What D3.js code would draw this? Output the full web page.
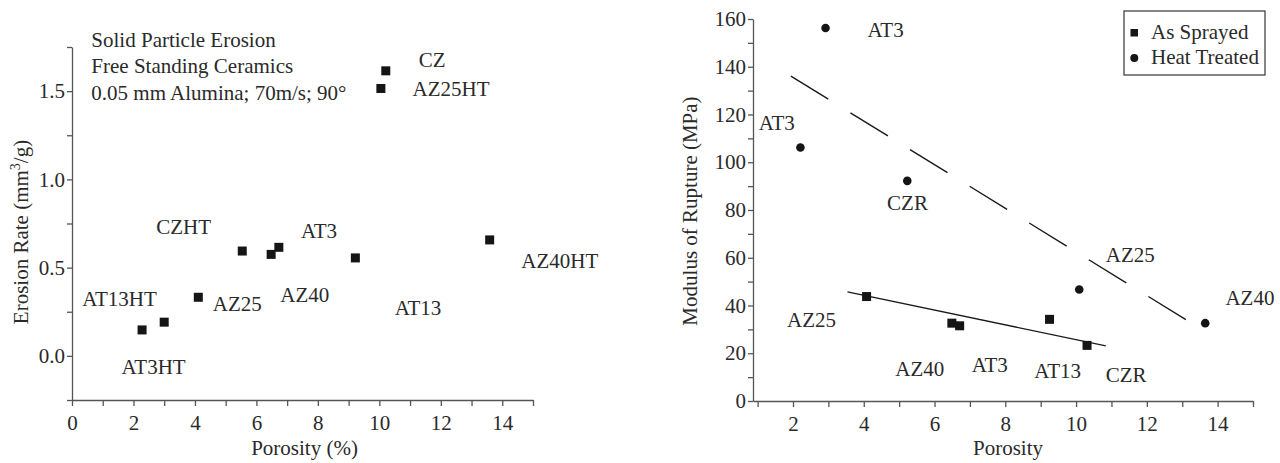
<!DOCTYPE html>
<html>
<head>
<meta charset="utf-8">
<script src="https://d3js.org/d3.v7.min.js"></script>
<style>
  body { margin: 0; background: #fff; }
  svg text { font-family: "Liberation Serif", "DejaVu Serif", serif; fill: #2a2a2a; }
  .axis path, .axis line { stroke: #555; stroke-width: 1.3; }
</style>
</head>
<body>
<div id="chart-container"></div>
<script>
// ---- data: left panel (erosion rate vs porosity) ----
var erosionPorosity = [2.28, 3.00, 4.11, 5.54, 6.48, 6.73, 9.22, 10.05, 10.21, 13.59];
var erosionRate     = [0.147, 0.191, 0.332, 0.594, 0.575, 0.615, 0.555, 1.515, 1.615, 0.657];
var erosionLabels   = ["AT3HT", "AT13HT", "CZHT", "AT3", "AZ25", "AZ40", "AT13", "AZ40HT", "AZ25HT", "CZ"];
var erosionLabelX   = [1.61, 0.33, 2.74, 7.45, 4.58, 6.78, 10.50, 14.62, 11.08, 11.28];
var erosionLabelY   = [-0.104, 0.284, 0.693, 0.670, 0.256, 0.307, 0.233, 0.500, 1.473, 1.635];
var erosionNotes    = ["Solid Particle Erosion", "Free Standing Ceramics", "0.05 mm Alumina; 70m/s; 90\u00b0"];
var erosionNoteY    = [1.75, 1.60, 1.449];
var leftXTicks = [0, 2, 4, 6, 8, 10, 12, 14];
var leftYTicks = [0.0, 0.5, 1.0, 1.5];

// ---- data: right panel (modulus of rupture vs porosity) ----
var sprayedPorosity = [4.08, 6.49, 6.71, 9.25, 10.31];
var sprayedMOR      = [43.75, 32.6, 31.5, 34.2, 23.3];
var treatedPorosity = [2.21, 2.92, 5.23, 10.09, 13.65];
var treatedMOR      = [106.2, 156.2, 92.2, 46.7, 32.6];
var sprayedFitX = [3.54, 10.84];
var sprayedFitY = [45.7, 23.1];
var treatedFitX = [1.94, 13.19];
var treatedFitY = [136.1, 33.3];
var morLabels = ["AT3", "AT3", "CZR", "AZ25", "AZ40", "AZ25", "AZ40", "AT3", "AT13", "CZR"];
var morLabelX = [4.105, 1.03, 4.66, 10.84, 14.22, 1.83, 4.89, 7.05, 8.82, 10.84];
var morLabelY = [152.5, 113.5, 80.0, 58.2, 40.2, 31.0, 10.5, 12.1, 9.6, 7.8];
var rightXTicks = [2, 4, 6, 8, 10, 12, 14];
var rightYTicks = [0, 20, 40, 60, 80, 100, 120, 140, 160];
var legendNames = ["As Sprayed", "Heat Treated"];

var svgWidth = 1280;
var svgHeight = 463;
var fs = 21; // text size used almost everywhere

var svg = d3.select("#chart-container")
    .append("svg")
    .attr("width", svgWidth)
    .attr("height", svgHeight);

function zip(xs, ys) {
    return xs.map(function(v, i) { return { x: v, y: ys[i] }; });
}

// =================== LEFT PANEL ===================
var xL = d3.scaleLinear().domain([0, 15]).range([72, 533]);
var yL = d3.scaleLinear().domain([-0.25, 1.75]).range([400, 47]);

svg.append("g")
    .attr("class", "axis")
    .attr("transform", "translate(0," + yL(-0.25) + ")")
    .call(d3.axisBottom(xL).tickValues(d3.range(0, 16, 1)).tickSize(6).tickSizeOuter(0)
        .tickFormat(function(d) { return leftXTicks.indexOf(d) >= 0 ? d : ""; }))
    .call(function(g) { g.selectAll("text").attr("font-size", fs).attr("dy", "1.0em"); });

svg.append("g")
    .attr("class", "axis")
    .attr("transform", "translate(" + xL(0) + ",0)")
    .call(d3.axisLeft(yL).tickValues(d3.range(-0.25, 1.76, 0.25)).tickSize(5).tickSizeOuter(0)
        .tickFormat(function(d) {
            var hit = leftYTicks.find(function(t) { return Math.abs(t - d) < 1e-6; });
            return hit === undefined ? "" : d3.format(".1f")(hit);
        }))
    .call(function(g) { g.selectAll("text").attr("font-size", fs).attr("x", -7); });

svg.selectAll(".sq-left")
    .data(zip(erosionPorosity, erosionRate))
    .enter().append("rect")
    .attr("class", "sq-left")
    .attr("x", function(d) { return xL(d.x) - 4.5; })
    .attr("y", function(d) { return yL(d.y) - 4.5; })
    .attr("width", 9)
    .attr("height", 9)
    .style("fill", "#151515");

svg.selectAll(".lab-left")
    .data(erosionLabels)
    .enter().append("text")
    .attr("class", "lab-left")
    .attr("x", function(d, i) { return xL(erosionLabelX[i]); })
    .attr("y", function(d, i) { return yL(erosionLabelY[i]); })
    .attr("font-size", fs)
    .text(function(d) { return d; });

svg.selectAll(".note-left")
    .data(erosionNotes)
    .enter().append("text")
    .attr("class", "note-left")
    .attr("x", xL(0.63))
    .attr("y", function(d, i) { return yL(erosionNoteY[i]); })
    .attr("font-size", fs)
    .text(function(d) { return d; });

// axis titles
svg.append("text")
    .attr("x", (xL(0) + xL(15)) / 2 + 2)
    .attr("y", 455)
    .attr("text-anchor", "middle")
    .attr("font-size", fs)
    .text("Porosity (%)");

var yTitleL = svg.append("text")
    .attr("transform", "translate(28," + 232 + ") rotate(-90)")
    .attr("text-anchor", "middle")
    .attr("font-size", fs);
yTitleL.append("tspan").text("Erosion Rate (mm");
yTitleL.append("tspan").attr("font-size", 14).attr("dy", -8).text("3");
yTitleL.append("tspan").attr("dy", 8).text("/g)");

// =================== RIGHT PANEL ===================
var xR = d3.scaleLinear().domain([0.87, 15]).range([753, 1253]);
var yR = d3.scaleLinear().domain([0, 160]).range([401, 19]);

svg.append("g")
    .attr("class", "axis")
    .attr("transform", "translate(0," + yR(0) + ")")
    .call(d3.axisBottom(xR).tickValues(d3.range(1, 16, 1)).tickSize(6).tickSizeOuter(0)
        .tickFormat(function(d) { return rightXTicks.indexOf(d) >= 0 ? d : ""; }))
    .call(function(g) { g.selectAll("text").attr("font-size", fs).attr("dy", "1.0em"); });

svg.append("g")
    .attr("class", "axis")
    .attr("transform", "translate(" + xR(0.87) + ",0)")
    .call(d3.axisLeft(yR).tickValues(d3.range(0, 161, 10)).tickSize(5).tickSizeOuter(0)
        .tickFormat(function(d) { return rightYTicks.indexOf(d) >= 0 ? d : ""; }))
    .call(function(g) { g.selectAll("text").attr("font-size", fs).attr("x", -7); });

// fitted lines
var lineR = d3.line()
    .x(function(d) { return xR(d.x); })
    .y(function(d) { return yR(d.y); });

svg.append("path")
    .datum(zip(sprayedFitX, sprayedFitY))
    .attr("d", lineR)
    .style("fill", "none")
    .style("stroke", "#1a1a1a")
    .style("stroke-width", 1.4);

svg.append("path")
    .datum(zip(treatedFitX, treatedFitY))
    .attr("d", lineR)
    .style("fill", "none")
    .style("stroke", "#1a1a1a")
    .style("stroke-width", 1.4)
    .style("stroke-dasharray", "44,26");

svg.selectAll(".sq-right")
    .data(zip(sprayedPorosity, sprayedMOR))
    .enter().append("rect")
    .attr("class", "sq-right")
    .attr("x", function(d) { return xR(d.x) - 4.5; })
    .attr("y", function(d) { return yR(d.y) - 4.5; })
    .attr("width", 9)
    .attr("height", 9)
    .style("fill", "#151515");

svg.selectAll(".dot-right")
    .data(zip(treatedPorosity, treatedMOR))
    .enter().append("circle")
    .attr("class", "dot-right")
    .attr("cx", function(d) { return xR(d.x); })
    .attr("cy", function(d) { return yR(d.y); })
    .attr("r", 4.3)
    .style("fill", "#151515");

svg.selectAll(".lab-right")
    .data(morLabels)
    .enter().append("text")
    .attr("class", "lab-right")
    .attr("x", function(d, i) { return xR(morLabelX[i]); })
    .attr("y", function(d, i) { return yR(morLabelY[i]); })
    .attr("font-size", fs)
    .text(function(d) { return d; });

svg.append("text")
    .attr("x", (xR(0.87) + xR(15)) / 2 + 5)
    .attr("y", 455)
    .attr("text-anchor", "middle")
    .attr("font-size", fs)
    .text("Porosity");

svg.append("text")
    .attr("transform", "translate(697," + 211 + ") rotate(-90)")
    .attr("text-anchor", "middle")
    .attr("font-size", fs)
    .text("Modulus of Rupture (MPa)");

// legend
var legend = svg.append("g").attr("transform", "translate(1124,11)");
legend.append("rect")
    .attr("width", 141)
    .attr("height", 64)
    .style("fill", "#fff")
    .style("stroke", "#444")
    .style("stroke-width", 1.3);
legend.append("rect")
    .attr("x", 6.5).attr("y", 18).attr("width", 7.5).attr("height", 7.5)
    .style("fill", "#151515");
legend.append("circle")
    .attr("cx", 10.3).attr("cy", 47).attr("r", 4)
    .style("fill", "#151515");
legend.selectAll(".leg-text")
    .data(legendNames)
    .enter().append("text")
    .attr("class", "leg-text")
    .attr("x", 27)
    .attr("y", function(d, i) { return 28 + i * 25; })
    .attr("font-size", fs)
    .text(function(d) { return d; });
</script>
</body>
</html>
